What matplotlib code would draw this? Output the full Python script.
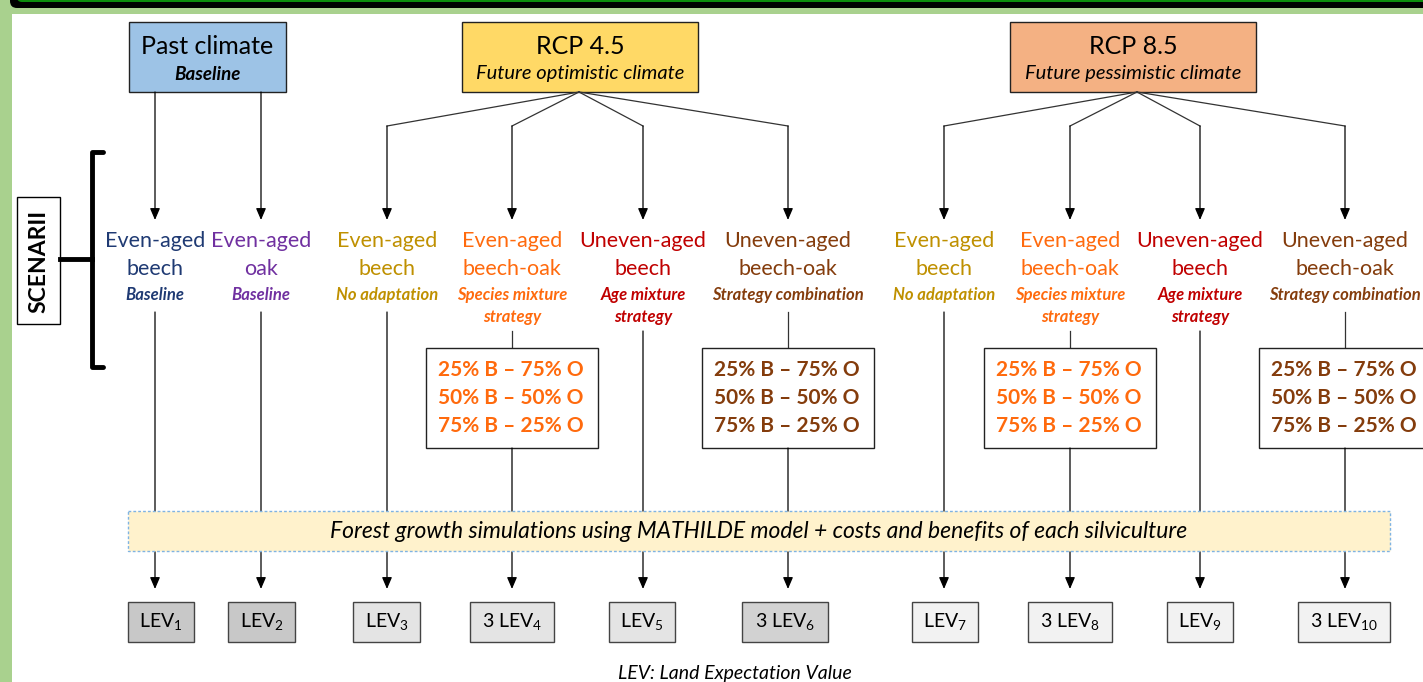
import matplotlib.pyplot as plt
from matplotlib.patches import Rectangle, FancyBboxPatch

plt.rcParams['font.family'] = ['Lato', 'DejaVu Sans']
plt.rcParams['mathtext.fontset'] = 'custom'
plt.rcParams['mathtext.rm'] = 'Lato'
plt.rcParams['mathtext.it'] = 'Lato:italic'

# climates (top boxes)
climates = ["Past climate", "RCP 4.5", "RCP 8.5"]
climate_notes = ["Baseline", "Future optimistic climate", "Future pessimistic climate"]
climate_colors = ["#9dc3e6", "#ffd966", "#f4b183"]

# the ten scenarii
scen_top = ["Even-aged", "Even-aged", "Even-aged", "Even-aged", "Uneven-aged", "Uneven-aged",
            "Even-aged", "Even-aged", "Uneven-aged", "Uneven-aged"]
scen_bottom = ["beech", "oak", "beech", "beech-oak", "beech", "beech-oak",
               "beech", "beech-oak", "beech", "beech-oak"]
strategies = ["Baseline", "Baseline", "No adaptation", "Species mixture\nstrategy", "Age mixture\nstrategy",
              "Strategy combination", "No adaptation", "Species mixture\nstrategy", "Age mixture\nstrategy",
              "Strategy combination"]
parents = [0, 0, 1, 1, 1, 1, 2, 2, 2, 2]
has_mixture = [False, False, False, True, False, True, False, True, False, True]
mixtures = ["25% B – 75% O", "50% B – 50% O", "75% B – 25% O"]
lev_labels = ["LEV$_{1}$", "LEV$_{2}$", "LEV$_{3}$", "3 LEV$_{4}$", "LEV$_{5}$", "3 LEV$_{6}$",
              "LEV$_{7}$", "3 LEV$_{8}$", "LEV$_{9}$", "3 LEV$_{10}$"]
band_text = "Forest growth simulations using MATHILDE model + costs and benefits of each silviculture"
footer = "LEV: Land Expectation Value"

# styles / layout
scen_colors = ["#1f3a73", "#7030a0", "#bf9000", "#ff6a0d", "#c00000", "#843c0c",
               "#bf9000", "#ff6a0d", "#c00000", "#843c0c"]
col_x = [155, 261, 387, 512, 643, 788, 944, 1070, 1200, 1345]
climate_box = [(129, 157), (462, 236), (1010, 246)]
lev_box = [(128, 194), (228, 295), (353, 420), (470, 554), (609, 675), (742, 828),
           (912, 978), (1028, 1112), (1167, 1233), (1298, 1390)]
lev_fill = ["#c8c8c8", "#c8c8c8", "#e4e4e4", "#e4e4e4", "#e4e4e4", "#d2d2d2",
            "#f2f2f2", "#f2f2f2", "#f2f2f2", "#f2f2f2"]
LINE = "#333333"

fig = plt.figure(figsize=(14.23, 6.82), dpi=100)
fig.patch.set_facecolor("#a9d18e")
ax = fig.add_axes([0, 0, 1, 1])
ax.set_xlim(0, 1423)
ax.set_ylim(682, 0)
ax.axis("off")

# frame
ax.add_patch(Rectangle((12, 14), 1420, 680, facecolor="white", edgecolor="none", zorder=0))
ax.add_patch(FancyBboxPatch((10, -30), 1440, 38, boxstyle="round,pad=0,rounding_size=7",
                            facecolor="black", edgecolor="none", zorder=1))
ax.add_patch(FancyBboxPatch((17, -30), 1440, 32, boxstyle="round,pad=0,rounding_size=5",
                            facecolor="#0c8c0c", edgecolor="none", zorder=1))


def arrow(x, y0, y1):
    ax.annotate("", xy=(x, y1), xytext=(x, y0),
                arrowprops=dict(arrowstyle="-|>,head_length=0.7,head_width=0.3", color="black",
                                lw=0.9, shrinkA=0, shrinkB=0), zorder=2)


def label(x, y, s, size, color="black", bold=False, italic=False):
    ax.text(x, y, s, ha="center", va="center", fontsize=size, color=color,
            fontweight="bold" if bold else "normal", style="italic" if italic else "normal", zorder=3)


# climate boxes
for i, (x0, w) in enumerate(climate_box):
    ax.add_patch(Rectangle((x0, 22), w, 70, facecolor=climate_colors[i], edgecolor="#222222", lw=1, zorder=2))
    label(x0 + w / 2, 46, climates[i], 18)
    if i == 0:
        label(x0 + w / 2, 74, climate_notes[i], 13.5, bold=True, italic=True)
    else:
        label(x0 + w / 2, 74, climate_notes[i], 14.5, italic=True)

# branches from climates to scenarii
for j, x in enumerate(col_x):
    p = parents[j]
    x0, w = climate_box[p]
    if p == 0:
        arrow(x, 92, 220)
    else:
        ax.plot([x0 + w / 2 + (-1 if p == 1 else 4), x], [92, 126], color=LINE, lw=0.9, zorder=2)
        arrow(x, 126, 220)

# scenario labels, mixture boxes and arrows down to the LEV boxes
for j, x in enumerate(col_x):
    c = scen_colors[j]
    label(x, 241, scen_top[j], 15.5, c)
    label(x, 269, scen_bottom[j], 15.5, c)
    lines = strategies[j].split("\n")
    for k, s in enumerate(lines):
        label(x, 295 + 22 * k, s, 12, c, bold=True, italic=True)

    y_start = 331 if len(lines) > 1 else 312
    if has_mixture[j]:
        ax.plot([x, x], [y_start, 348], color=LINE, lw=0.9, zorder=2)
        ax.add_patch(Rectangle((x - 86, 348), 172, 100, facecolor="white", edgecolor="#222222", lw=1, zorder=2))
        for k, m in enumerate(mixtures):
            label(x - 1, 370 + 28 * k, m, 15, c, bold=True)
        arrow(x, 448, 589)
    else:
        arrow(x, y_start, 589)

# simulation band
ax.add_patch(Rectangle((128, 511), 1262, 40, facecolor="#fff2cc", edgecolor="#7fb3e3", lw=1,
                       linestyle=(0, (2, 1.5)), zorder=4))
ax.text(759, 531, band_text, ha="center", va="center", fontsize=16.5, style="italic", zorder=5)

# LEV boxes
for j, (x0, x1) in enumerate(lev_box):
    ax.add_patch(Rectangle((x0, 602), x1 - x0, 40, facecolor=lev_fill[j], edgecolor="#444444", lw=1, zorder=2))
    label((x0 + x1) / 2, 622, lev_labels[j], 14)

label(735, 673, footer, 14, italic=True)

# SCENARII bracket
ax.add_patch(Rectangle((17, 197), 43, 127, facecolor="white", edgecolor="black", lw=1, zorder=2))
ax.text(39, 261, "SCENARII", rotation=90, ha="center", va="center", fontsize=16.5, fontweight="bold")
ax.plot([103, 92, 92, 103], [152, 152, 367, 367], color="black", lw=3.5, solid_joinstyle="round",
        solid_capstyle="round")
ax.plot([60, 92], [259, 259], color="black", lw=3.5)

fig.savefig("out.png", dpi=100)
